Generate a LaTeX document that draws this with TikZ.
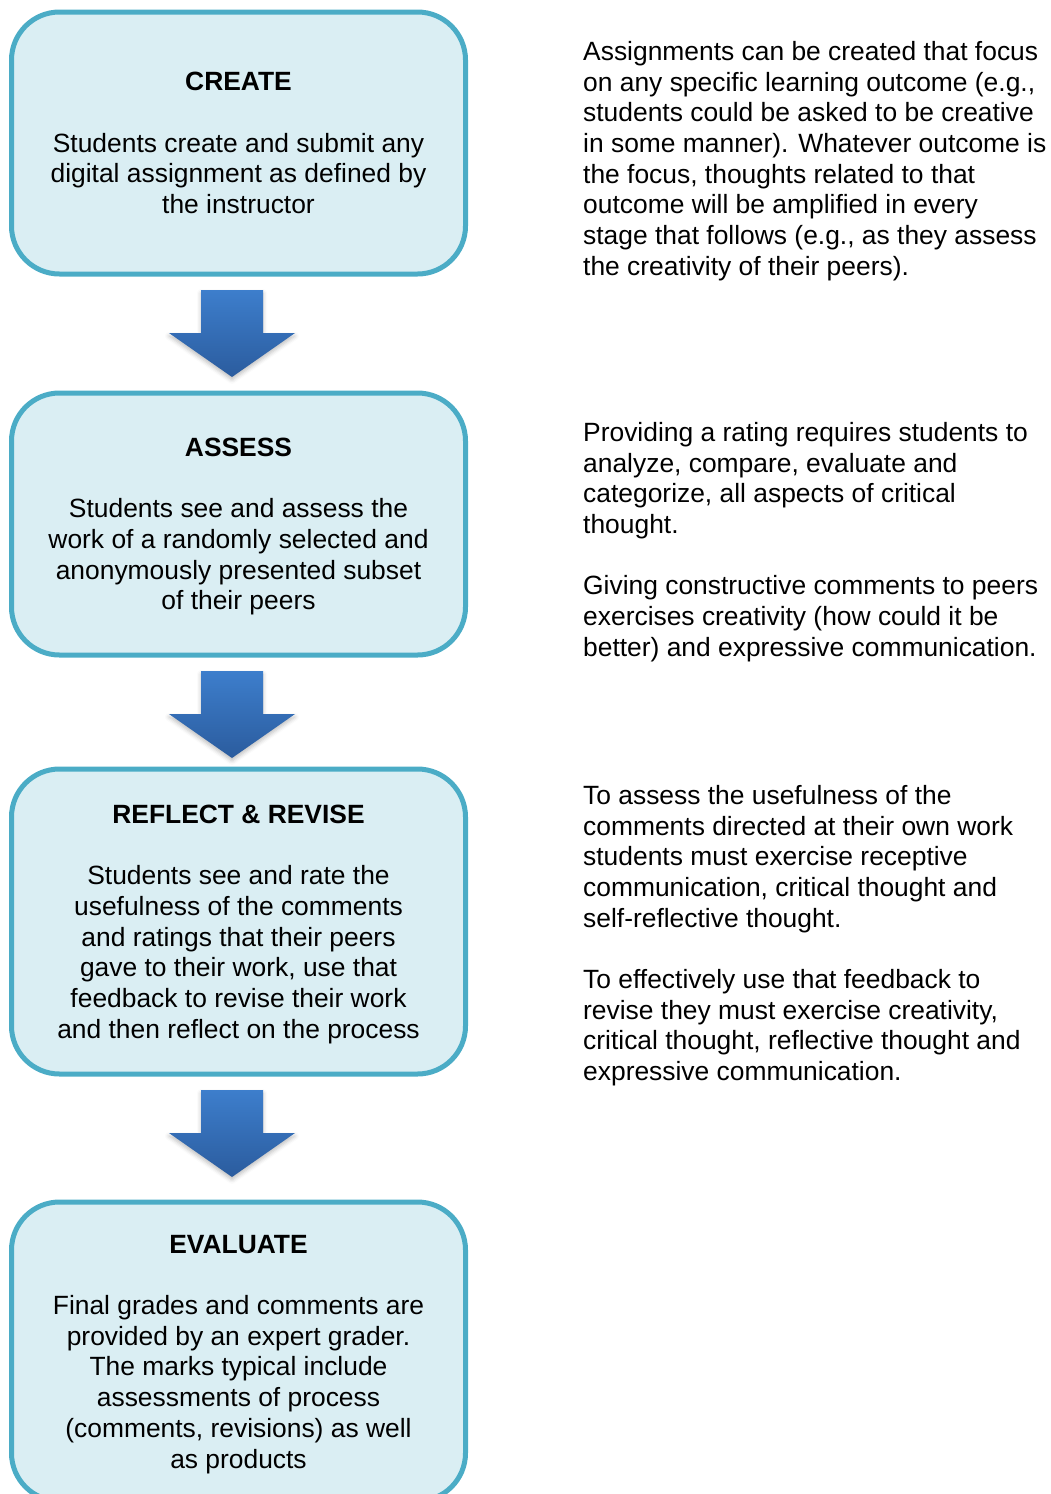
\documentclass[tikz,border=0pt]{standalone}
\usepackage{fontspec}
\setmainfont{Liberation Sans}
\usetikzlibrary{calc,shadows.blur}

\definecolor{stageline}{RGB}{75,172,198}
\definecolor{stagefill}{RGB}{218,238,243}
\definecolor{arrowtop}{RGB}{61,126,204}
\definecolor{arrowbottom}{RGB}{43,92,158}

\tikzset{
  stagebox/.style={draw=stageline, fill=stagefill, line width=5pt,
    rounded corners=48pt, minimum width=454pt, align=center,
    inner sep=0pt, text depth=0pt,
    font=\fontsize{26.4}{30.7}\selectfont},
  notetext/.style={anchor=north west, align=left, inner sep=0pt,
    font=\fontsize{26.4}{30.7}\selectfont},
  arrowshape/.style={top color=arrowtop, bottom color=arrowbottom,
    blur shadow={shadow xshift=0pt, shadow yshift=-3pt,
      shadow opacity=25, shadow blur radius=4pt}},
}

% block arrow hanging below node #1, pointing at node #2
\newcommand{\flowarrow}[2]{%
  \coordinate (#1-#2) at ($(#1.south)+(-6.5,13.5)$);
  \path[arrowshape] (#1-#2) ++(-31,0) -- ++(62,0) -- ++(0,43) -- ++(32,0)
    -- ++(-63,44) -- ++(-63,-44) -- ++(32,0) -- cycle;
}

\begin{document}
\begin{tikzpicture}[x=1pt,y=-1pt]
\useasboundingbox (0,0) rectangle (1050,1494);
\clip (0,0) rectangle (1050,1494);

% stages
\node[stagebox, minimum height=262pt] (create) at (238.5,143)
  {\textbf{CREATE}\\[30.7pt]
   Students create and submit any\\
   digital assignment as defined by\\
   the instructor};

\node[stagebox, minimum height=262pt] (assess) at (238.5,524)
  {\textbf{ASSESS}\\[30.7pt]
   Students see and assess the\\
   work of a randomly selected and\\
   anonymously presented subset\\
   of their peers};

\node[stagebox, minimum height=305pt] (reflect) at (238.5,921.5)
  {\textbf{REFLECT \& REVISE}\\[30.7pt]
   Students see and rate the\\
   usefulness of the comments\\
   and ratings that their peers\\
   gave to their work, use that\\
   feedback to revise their work\\
   and then reflect on the process};

\node[stagebox, minimum height=299pt] (evaluate) at (238.5,1351.5)
  {\textbf{EVALUATE}\\[30.7pt]
   Final grades and comments are\\
   provided by an expert grader.\\
   The marks typical include\\
   assessments of process\\
   (comments, revisions) as well\\
   as products};

% arrows between stages
\flowarrow{create}{assess}
\flowarrow{assess}{reflect}
\flowarrow{reflect}{evaluate}

% side notes
\node[notetext] (note1) at (583,41)
  {Assignments can be created that focus\\
   on any specific learning outcome (e.g.,\\
   students could be asked to be creative\\
   in some manner). Whatever outcome is\\
   the focus, thoughts related to that\\
   outcome will be amplified in every\\
   stage that follows (e.g., as they assess\\
   the creativity of their peers).};

\node[notetext] (note2) at (583,422)
  {Providing a rating requires students to\\
   analyze, compare, evaluate and\\
   categorize, all aspects of critical\\
   thought.\\[30.7pt]
   Giving constructive comments to peers\\
   exercises creativity (how could it be\\
   better) and expressive communication.};

\node[notetext] (note3) at (583,785)
  {To assess the usefulness of the\\
   comments directed at their own work\\
   students must exercise receptive\\
   communication, critical thought and\\
   self-reflective thought.\\[30.7pt]
   To effectively use that feedback to\\
   revise they must exercise creativity,\\
   critical thought, reflective thought and\\
   expressive communication.};
\end{tikzpicture}
\end{document}
